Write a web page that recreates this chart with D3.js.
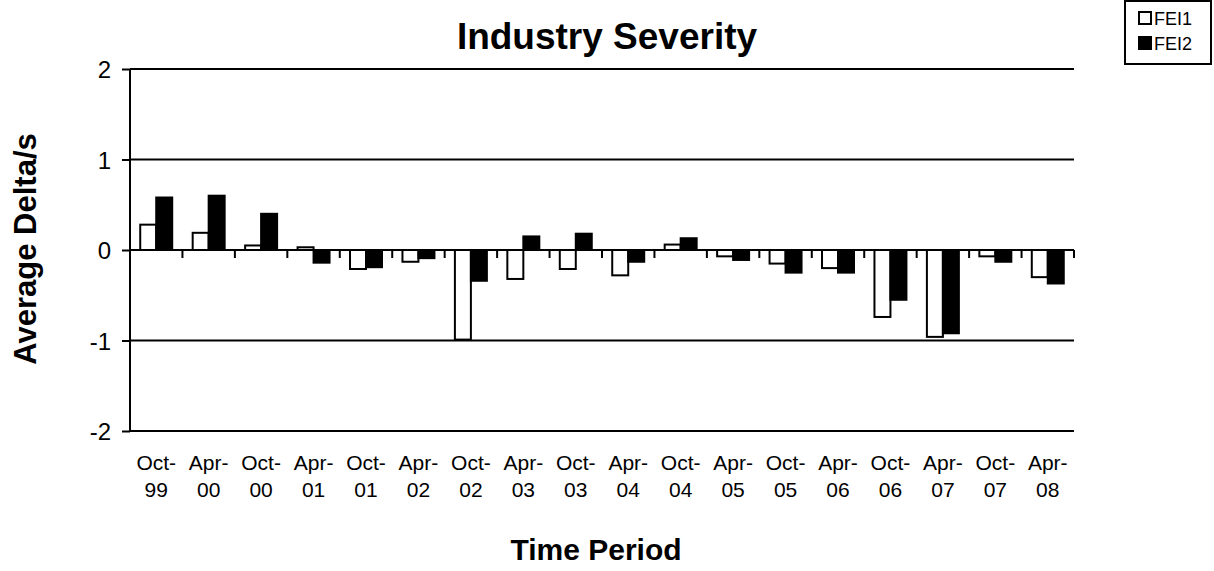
<!DOCTYPE html>
<html><head><meta charset="utf-8">
<script src="https://cdn.jsdelivr.net/npm/d3@7"></script>
<style>body{margin:0;background:#fff}svg{display:block;font-family:"Liberation Sans",Arial,sans-serif}</style>
</head><body><svg id="c" width="1214" height="571"></svg>
<script>
const categories = ["Oct-99","Apr-00","Oct-00","Apr-01","Oct-01","Apr-02","Oct-02","Apr-03","Oct-03","Apr-04","Oct-04","Apr-05","Oct-05","Apr-06","Oct-06","Apr-07","Oct-07","Apr-08"];
const fei1 = [0.28,0.19,0.05,0.03,-0.21,-0.13,-0.99,-0.32,-0.21,-0.28,0.06,-0.07,-0.15,-0.20,-0.74,-0.96,-0.07,-0.30];
const fei2 = [0.58,0.60,0.40,-0.14,-0.19,-0.09,-0.34,0.15,0.18,-0.13,0.13,-0.11,-0.25,-0.25,-0.55,-0.92,-0.13,-0.37];
const yTicks = [-2,-1,0,1,2];
const seriesNames = ["FEI1","FEI2"];

const svg = d3.select("#c");
const L=130, R=1074, T=69, B=431;
const x = d3.scaleBand().domain(categories).range([L,R]).paddingInner(0).paddingOuter(0);
const y = d3.scaleLinear().domain([-2,2]).range([B,T]);
const x1 = d3.scaleBand().domain(seriesNames).range([0, x.bandwidth()]).paddingInner(0).paddingOuter(0.64);

// gridlines
svg.append("g").selectAll("line").data(yTicks.filter(d=>d!==0)).join("line")
  .attr("x1",L).attr("x2",R).attr("y1",d=>y(d)).attr("y2",d=>y(d))
  .attr("stroke","#000").attr("stroke-width",2);

// bars
const series=[fei1,fei2];
const fills=["#fff","#000"];
series.forEach((vals,si)=>{
  svg.append("g").selectAll("rect").data(vals).join("rect")
    .attr("x",(d,i)=>x(categories[i])+x1(seriesNames[si]))
    .attr("width",x1.bandwidth())
    .attr("y",d=>y(Math.max(0,d)))
    .attr("height",d=>Math.abs(y(d)-y(0)))
    .attr("fill",fills[si]).attr("stroke","#000").attr("stroke-width",2);
});

// y axis
const ya = d3.axisLeft(y).tickValues(yTicks).tickSize(8).tickPadding(11).tickFormat(d=>String(d));
const gy = svg.append("g").attr("transform",`translate(${L},0)`).call(ya);
gy.attr("font-family",null).attr("font-size",null);
gy.select(".domain").attr("stroke-width",2).attr("d",`M0,${T}V${B}`);
gy.selectAll(".tick line").attr("stroke-width",2);
gy.selectAll(".tick text").attr("font-size",24).attr("fill","#000").attr("dy","0.36em");

// zero line + x ticks
svg.append("line").attr("x1",L).attr("x2",R).attr("y1",y(0)).attr("y2",y(0)).attr("stroke","#000").attr("stroke-width",2);
const bounds = categories.map(c=>x(c)+x.bandwidth());
svg.append("g").selectAll("line").data(bounds).join("line")
  .attr("x1",d=>d).attr("x2",d=>d).attr("y1",y(0)).attr("y2",y(0)+8)
  .attr("stroke","#000").attr("stroke-width",2);

// x labels
const xl = svg.append("g").selectAll("text").data(categories).join("text")
  .attr("text-anchor","middle").attr("font-size",21).attr("fill","#000");
xl.append("tspan").attr("x",d=>x(d)+x.bandwidth()/2).attr("y",470).text(d=>d.split("-")[0]+"-");
xl.append("tspan").attr("x",d=>x(d)+x.bandwidth()/2).attr("y",497).text(d=>d.split("-")[1]);

// titles
svg.append("text").attr("x",607).attr("y",49).attr("text-anchor","middle").attr("font-size",37).attr("font-weight","bold").text("Industry Severity");
svg.append("text").attr("x",596).attr("y",560).attr("text-anchor","middle").attr("font-size",30).attr("font-weight","bold").text("Time Period");
svg.append("text").attr("transform","translate(36,249) rotate(-90)").attr("text-anchor","middle").attr("font-size",31).attr("font-weight","bold").text("Average Delta/s");

// legend
const lg = svg.append("g");
lg.append("rect").attr("x",1125).attr("y",1).attr("width",86).attr("height",63).attr("fill","#fff").attr("stroke","#000").attr("stroke-width",2);
seriesNames.forEach((n,i)=>{
  const yy = 18+i*25;
  lg.append("rect").attr("x",1139).attr("y",yy-6).attr("width",12).attr("height",12).attr("fill",fills[i]).attr("stroke","#000").attr("stroke-width",2);
  lg.append("text").attr("x",1154).attr("y",yy+7).attr("font-size",18).text(n);
});
</script></body></html>
